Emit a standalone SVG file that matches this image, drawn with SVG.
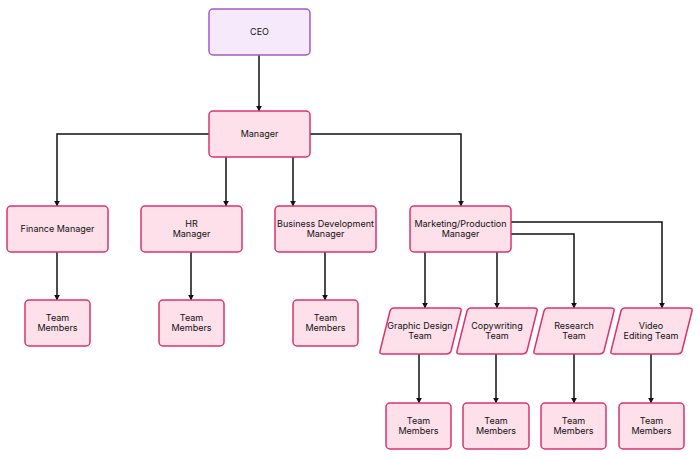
<svg xmlns="http://www.w3.org/2000/svg" width="700" height="458" viewBox="0 0 700 458">
<style>
.p{fill:#fde0ea;stroke:#d9346f;stroke-width:1.5}
.c{fill:#f6e9fc;stroke:#a45bc2;stroke-width:1.5}
text{font-family:Inter,"Liberation Sans",sans-serif;font-size:9px;fill:#111;text-anchor:middle}
.e{fill:none;stroke:#111;stroke-width:1.5}
</style>
<defs><marker id="a" viewBox="0 0 10 10" refX="9" refY="5" markerWidth="4" markerHeight="4" orient="auto"><path d="M0,0L10,5L0,10z" fill="#111"/></marker></defs>
<rect width="700" height="458" fill="#fff"/>
<g id="connectors" class="e" marker-end="url(#a)">
<path d="M259,55V111"/>
<path d="M209,134H57V206"/>
<path d="M226,157V206"/>
<path d="M293,157V206"/>
<path d="M310,134H461V206"/>
<path d="M57,252V300"/>
<path d="M191,252V300"/>
<path d="M325,252V300"/>
<path d="M425,252V308"/>
<path d="M497,252V308"/>
<path d="M511,234H574V308"/>
<path d="M511,222H662V308"/>
<path d="M419,354V403"/>
<path d="M496,354V403"/>
<path d="M574,354V403"/>
<path d="M651,354V403"/>
</g>
<g id="ceo"><rect class="c" x="209" y="9" width="101" height="46" rx="4"/><text x="259.5" y="35">CEO</text></g>
<g id="manager"><rect class="p" x="209" y="111" width="101" height="46" rx="4"/><text x="259.5" y="137">Manager</text></g>
<g id="finance"><rect class="p" x="7" y="206" width="101" height="46" rx="4"/><text x="57.5" y="232">Finance Manager</text></g>
<g id="hr"><rect class="p" x="141" y="206" width="101" height="46" rx="4"/><text x="191.5" y="227">HR</text><text x="191.5" y="237">Manager</text></g>
<g id="bizdev"><rect class="p" x="275" y="206" width="101" height="46" rx="4"/><text x="325.5" y="227">Business Development</text><text x="325.5" y="237">Manager</text></g>
<g id="marketing"><rect class="p" x="410" y="206" width="101" height="46" rx="4"/><text x="460.5" y="227">Marketing/Production</text><text x="460.5" y="237">Manager</text></g>
<g id="tm1"><rect class="p" x="25" y="300" width="65" height="46" rx="4"/><text x="57.5" y="321">Team</text><text x="57.5" y="331">Members</text></g>
<g id="tm2"><rect class="p" x="159" y="300" width="65" height="46" rx="4"/><text x="191.5" y="321">Team</text><text x="191.5" y="331">Members</text></g>
<g id="tm3"><rect class="p" x="293" y="300" width="65" height="46" rx="4"/><text x="325.5" y="321">Team</text><text x="325.5" y="331">Members</text></g>
<g id="graphic"><path class="p" d="M394,308H458Q462,308 461,311L451,351Q450,354 446,354H383Q379,354 380,351L390,311Q391,308 394,308z"/><text x="420" y="329">Graphic Design</text><text x="420" y="339">Team</text></g>
<g id="copy"><path class="p" d="M471,308H534Q538,308 537,311L527,351Q526,354 522,354H460Q456,354 457,351L467,311Q468,308 471,308z"/><text x="497" y="329">Copywriting</text><text x="497" y="339">Team</text></g>
<g id="research"><path class="p" d="M548,308H611Q615,308 614,311L604,351Q603,354 599,354H537Q533,354 534,351L544,311Q545,308 548,308z"/><text x="574" y="329">Research</text><text x="574" y="339">Team</text></g>
<g id="video"><path class="p" d="M625,308H689Q693,308 692,311L682,351Q681,354 677,354H614Q610,354 611,351L621,311Q622,308 625,308z"/><text x="651" y="329">Video</text><text x="651" y="339">Editing Team</text></g>
<g id="tm4"><rect class="p" x="386" y="403" width="65" height="46" rx="4"/><text x="418.5" y="424">Team</text><text x="418.5" y="434">Members</text></g>
<g id="tm5"><rect class="p" x="463" y="403" width="66" height="46" rx="4"/><text x="496" y="424">Team</text><text x="496" y="434">Members</text></g>
<g id="tm6"><rect class="p" x="541" y="403" width="65" height="46" rx="4"/><text x="573.5" y="424">Team</text><text x="573.5" y="434">Members</text></g>
<g id="tm7"><rect class="p" x="619" y="403" width="65" height="46" rx="4"/><text x="651.5" y="424">Team</text><text x="651.5" y="434">Members</text></g>
</svg>
